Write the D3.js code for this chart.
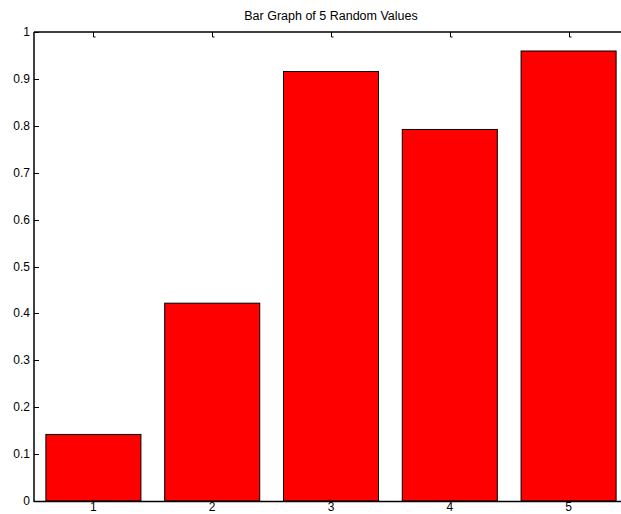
<!DOCTYPE html>
<html>
<head>
<meta charset="utf-8">
<script src="https://cdn.jsdelivr.net/npm/d3@7"></script>
<style>
  html, body { margin: 0; padding: 0; background: #fff; overflow: hidden; }
  text { font-family: "Liberation Sans", Arial, Helvetica, sans-serif; }
</style>
</head>
<body>
<svg id="chart" width="621" height="514"></svg>
<script>
const categories = [1, 2, 3, 4, 5];
const values = [0.1419, 0.4218, 0.9157, 0.7922, 0.9595];
const yTicks = [0, 0.1, 0.2, 0.3, 0.4, 0.5, 0.6, 0.7, 0.8, 0.9, 1];
const yTickLabels = ["0", "0.1", "0.2", "0.3", "0.4", "0.5", "0.6", "0.7", "0.8", "0.9", "1"];
const title = "Bar Graph of 5 Random Values";

(function () {
const svg = d3.select("#chart");
const pLeft = 34, pRight = 628, pTop = 32, pBottom = 501;

const x = d3.scaleLinear().domain([0.5, 5.5]).range([pLeft, pRight]);
const y = d3.scaleLinear().domain([0, 1]).range([pBottom, pTop]);
const barW = (x(1.4) - x(0.6));

// ticks (drawn below bars, MATLAB layer bottom)
const g = svg.append("g");
g.selectAll(".ytl").data(yTicks).enter().append("line")
  .attr("x1", pLeft).attr("x2", pLeft + 5)
  .attr("y1", d => Math.round(y(d)) + 0.5).attr("y2", d => Math.round(y(d)) + 0.5)
  .attr("stroke", "#000").attr("stroke-width", 1);
g.selectAll(".xtt").data(categories).enter().append("path")
  .attr("d", d => { const px = Math.round(x(d)) + 0.5; return `M${px},${pTop}V${pTop + 5}H${px + 2}`; })
  .attr("fill", "none").attr("stroke", "#000").attr("stroke-width", 1);
g.selectAll(".xtb").data(categories).enter().append("line")
  .attr("x1", d => Math.round(x(d)) + 0.5).attr("x2", d => Math.round(x(d)) + 0.5)
  .attr("y1", pBottom).attr("y2", pBottom - 5)
  .attr("stroke", "#000").attr("stroke-width", 1);

// bars
svg.selectAll(".bar").data(values).enter().append("rect")
  .attr("x", (d, i) => x(categories[i]) - barW / 2)
  .attr("width", barW)
  .attr("y", d => y(d))
  .attr("height", d => y(0) - y(d))
  .attr("fill", "#ff0000")
  .attr("stroke", "#000")
  .attr("stroke-width", 1);

// axes box lines
svg.append("line").attr("x1", pLeft).attr("x2", pLeft).attr("y1", pTop).attr("y2", pBottom + 1)
  .attr("stroke", "#000").attr("stroke-width", 1.5);
svg.append("line").attr("x1", pLeft).attr("x2", pRight).attr("y1", pTop).attr("y2", pTop)
  .attr("stroke", "#000").attr("stroke-width", 1.5);
svg.append("line").attr("x1", pLeft).attr("x2", pRight).attr("y1", pBottom + 0.5).attr("y2", pBottom + 0.5)
  .attr("stroke", "#000").attr("stroke-width", 1.5);
svg.append("line").attr("x1", pRight).attr("x2", pRight).attr("y1", pTop).attr("y2", pBottom)
  .attr("stroke", "#000").attr("stroke-width", 1.5);

// y tick labels
svg.selectAll(".ylab").data(yTicks).enter().append("text")
  .attr("x", 30).attr("y", d => y(d) + 4)
  .attr("text-anchor", "end").attr("font-size", 12).attr("fill", "#000")
  .text((d, i) => yTickLabels[i]);

// x tick labels
svg.selectAll(".xlab").data(categories).enter().append("text")
  .attr("x", d => x(d)).attr("y", 511)
  .attr("text-anchor", "middle").attr("font-size", 12).attr("fill", "#000")
  .text(d => String(d));

// title
svg.append("text").attr("x", (pLeft + pRight) / 2).attr("y", 20)
  .attr("text-anchor", "middle").attr("font-size", 12.5).attr("fill", "#000")
  .text(title);
})();
</script>
</body>
</html>
